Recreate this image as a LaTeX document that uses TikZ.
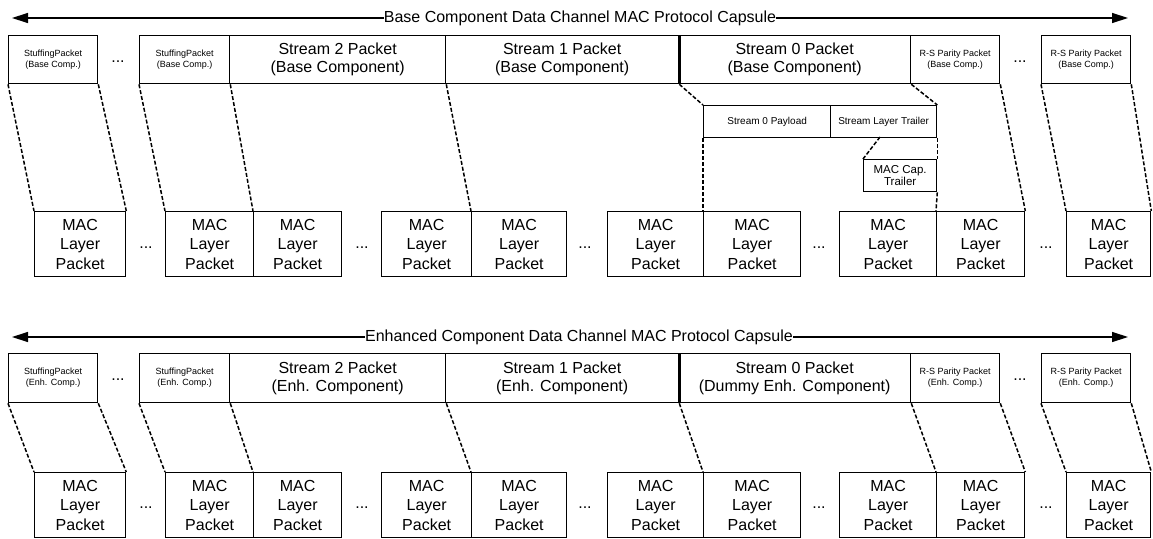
\documentclass[tikz,border=0pt]{standalone}
\usepackage{fontspec}
\setmainfont{Liberation Sans}
\usetikzlibrary{arrows.meta}
\begin{document}
\begin{tikzpicture}[x=1pt,y=-1pt,
  box/.style={draw, line width=1.3pt, inner sep=0pt, align=center, anchor=north west, font=\fontsize{16}{18}\selectfont},
  small/.style={font=\fontsize{9}{11}\selectfont},
  mid/.style={font=\fontsize{10}{12}\selectfont},
  mac/.style={box, minimum height=65pt, font=\fontsize{16}{19.5}\selectfont},
  dots/.style={inner sep=0pt, font=\fontsize{16}{18}\selectfont},
  title/.style={inner sep=0pt, font=\fontsize{16}{18}\selectfont},
  conn/.style={line width=1.5pt, dash pattern=on 4pt off 2pt},
  arr/.style={line width=1.3pt, -{Triangle[length=16pt,width=10pt]}}
]
\useasboundingbox (0,0) rectangle (1153,538);

% ---------------- Top: Base component ----------------
\node[title] (t1) at (580,18) {Base Component Data Channel MAC Protocol Capsule};
\coordinate (l1) at (12,18);
\coordinate (r1) at (1128,18);
\draw[arr] (t1.west) -- (l1);
\draw[arr] (t1.east) -- (r1);

\node[box, small, minimum width=89pt, minimum height=48pt] (tsp1) at (8,35) {StuffingPacket\\(Base Comp.)};
\node[dots] (td1) at (118,62) {...};
\node[box, small, minimum width=90pt, minimum height=48pt] (tsp2) at (139,35) {StuffingPacket\\(Base Comp.)};
\node[box, minimum width=216pt, minimum height=48pt] (ts2) at (229,35) {Stream 2 Packet\\(Base Component)};
\node[box, minimum width=233pt, minimum height=48pt] (ts1) at (445,35) {Stream 1 Packet\\(Base Component)};
\node[box, minimum width=232pt, minimum height=48pt] (ts0) at (678,35) {Stream 0 Packet\\(Base Component)};
\node[box, small, minimum width=89pt, minimum height=48pt] (trs1) at (910,35) {R-S Parity Packet\\(Base Comp.)};
\node[dots] (td2) at (1020,62) {...};
\node[box, small, minimum width=89pt, minimum height=48pt] (trs2) at (1041,35) {R-S Parity Packet\\(Base Comp.)};
\draw[line width=2.6pt] (ts1.north east) -- (ts1.south east);

\node[box, mid, minimum width=127pt, minimum height=32pt] (tpay) at (703,105) {Stream 0 Payload};
\node[box, mid, minimum width=106pt, minimum height=32pt] (ttr) at (830,105) {Stream Layer Trailer};
\node[box, font=\fontsize{11.5}{12.5}\selectfont, minimum width=73pt, minimum height=32pt] (tcap) at (863,159) {MAC Cap.\\Trailer};
\coordinate (ttrm) at (880,137);

\node[mac, minimum width=91pt] (tm1) at (34,211) {MAC\\Layer\\Packet};
\node[dots] (tmd1) at (146,248) {...};
\node[mac, minimum width=88pt] (tm2) at (165,211) {MAC\\Layer\\Packet};
\node[mac, minimum width=88pt] (tm3) at (253,211) {MAC\\Layer\\Packet};
\node[dots] (tmd2) at (362,248) {...};
\node[mac, minimum width=90pt] (tm4) at (381,211) {MAC\\Layer\\Packet};
\node[mac, minimum width=95pt] (tm5) at (471,211) {MAC\\Layer\\Packet};
\node[dots] (tmd3) at (585,248) {...};
\node[mac, minimum width=96pt] (tm6) at (607,211) {MAC\\Layer\\Packet};
\node[mac, minimum width=97pt] (tm7) at (703,211) {MAC\\Layer\\Packet};
\node[dots] (tmd4) at (819,248) {...};
\node[mac, minimum width=97pt] (tm8) at (839,211) {MAC\\Layer\\Packet};
\node[mac, minimum width=88pt] (tm9) at (936,211) {MAC\\Layer\\Packet};
\node[dots] (tmd5) at (1046,248) {...};
\node[mac, minimum width=84pt] (tm10) at (1066,211) {MAC\\Layer\\Packet};

\draw[conn] (tsp1.south west) -- (tm1.north west);
\draw[conn] (tsp1.south east) -- (tm1.north east);
\draw[conn] (tsp2.south west) -- (tm2.north west);
\draw[conn] (tsp2.south east) -- (tm3.north west);
\draw[conn] (ts2.south east) -- (tm5.north west);
\draw[conn] (ts1.south east) -- (tpay.north west);
\draw[conn] (tpay.south west) -- (tm7.north west);
\draw[conn] (ts0.south east) -- (ttr.north east);
\draw[conn] (ttr.south east) -- (tcap.north east);
\draw[conn] (ttrm) -- (tcap.north west);
\draw[conn] (tcap.south east) -- (tm9.north west);
\draw[conn] (trs1.south east) -- (tm9.north east);
\draw[conn] (trs2.south west) -- (tm10.north west);
\draw[conn] (trs2.south east) -- (tm10.north east);

% ---------------- Bottom: Enhanced component ----------------
\node[title] (t2) at (579,337) {Enhanced Component Data Channel MAC Protocol Capsule};
\coordinate (l2) at (12,337);
\coordinate (r2) at (1128,337);
\draw[arr] (t2.west) -- (l2);
\draw[arr] (t2.east) -- (r2);

\node[box, small, minimum width=89pt, minimum height=49pt] (bsp1) at (8,353) {StuffingPacket\\(Enh. Comp.)};
\node[dots] (bd1) at (118,380) {...};
\node[box, small, minimum width=90pt, minimum height=49pt] (bsp2) at (139,353) {StuffingPacket\\(Enh. Comp.)};
\node[box, minimum width=216pt, minimum height=49pt] (bs2) at (229,353) {Stream 2 Packet\\(Enh. Component)};
\node[box, minimum width=233pt, minimum height=49pt] (bs1) at (445,353) {Stream 1 Packet\\(Enh. Component)};
\node[box, minimum width=232pt, minimum height=49pt] (bs0) at (678,353) {Stream 0 Packet\\(Dummy Enh. Component)};
\node[box, small, minimum width=89pt, minimum height=49pt] (brs1) at (910,353) {R-S Parity Packet\\(Enh. Comp.)};
\node[dots] (bd2) at (1020,380) {...};
\node[box, small, minimum width=89pt, minimum height=49pt] (brs2) at (1041,353) {R-S Parity Packet\\(Enh. Comp.)};
\draw[line width=2.6pt] (bs1.north east) -- (bs1.south east);

\node[mac, minimum width=91pt] (bm1) at (34,472) {MAC\\Layer\\Packet};
\node[dots] (bmd1) at (146,508) {...};
\node[mac, minimum width=88pt] (bm2) at (165,472) {MAC\\Layer\\Packet};
\node[mac, minimum width=88pt] (bm3) at (253,472) {MAC\\Layer\\Packet};
\node[dots] (bmd2) at (362,508) {...};
\node[mac, minimum width=90pt] (bm4) at (381,472) {MAC\\Layer\\Packet};
\node[mac, minimum width=95pt] (bm5) at (471,472) {MAC\\Layer\\Packet};
\node[dots] (bmd3) at (585,508) {...};
\node[mac, minimum width=96pt] (bm6) at (607,472) {MAC\\Layer\\Packet};
\node[mac, minimum width=97pt] (bm7) at (703,472) {MAC\\Layer\\Packet};
\node[dots] (bmd4) at (819,508) {...};
\node[mac, minimum width=97pt] (bm8) at (839,472) {MAC\\Layer\\Packet};
\node[mac, minimum width=88pt] (bm9) at (936,472) {MAC\\Layer\\Packet};
\node[dots] (bmd5) at (1046,508) {...};
\node[mac, minimum width=84pt] (bm10) at (1066,472) {MAC\\Layer\\Packet};

\draw[conn] (bsp1.south west) -- (bm1.north west);
\draw[conn] (bsp1.south east) -- (bm1.north east);
\draw[conn] (bsp2.south west) -- (bm2.north west);
\draw[conn] (bsp2.south east) -- (bm3.north west);
\draw[conn] (bs2.south east) -- (bm5.north west);
\draw[conn] (bs1.south east) -- (bm7.north west);
\draw[conn] (bs0.south east) -- (bm9.north west);
\draw[conn] (brs1.south east) -- (bm9.north east);
\draw[conn] (brs2.south west) -- (bm10.north west);
\draw[conn] (brs2.south east) -- (bm10.north east);
\end{tikzpicture}
\end{document}
